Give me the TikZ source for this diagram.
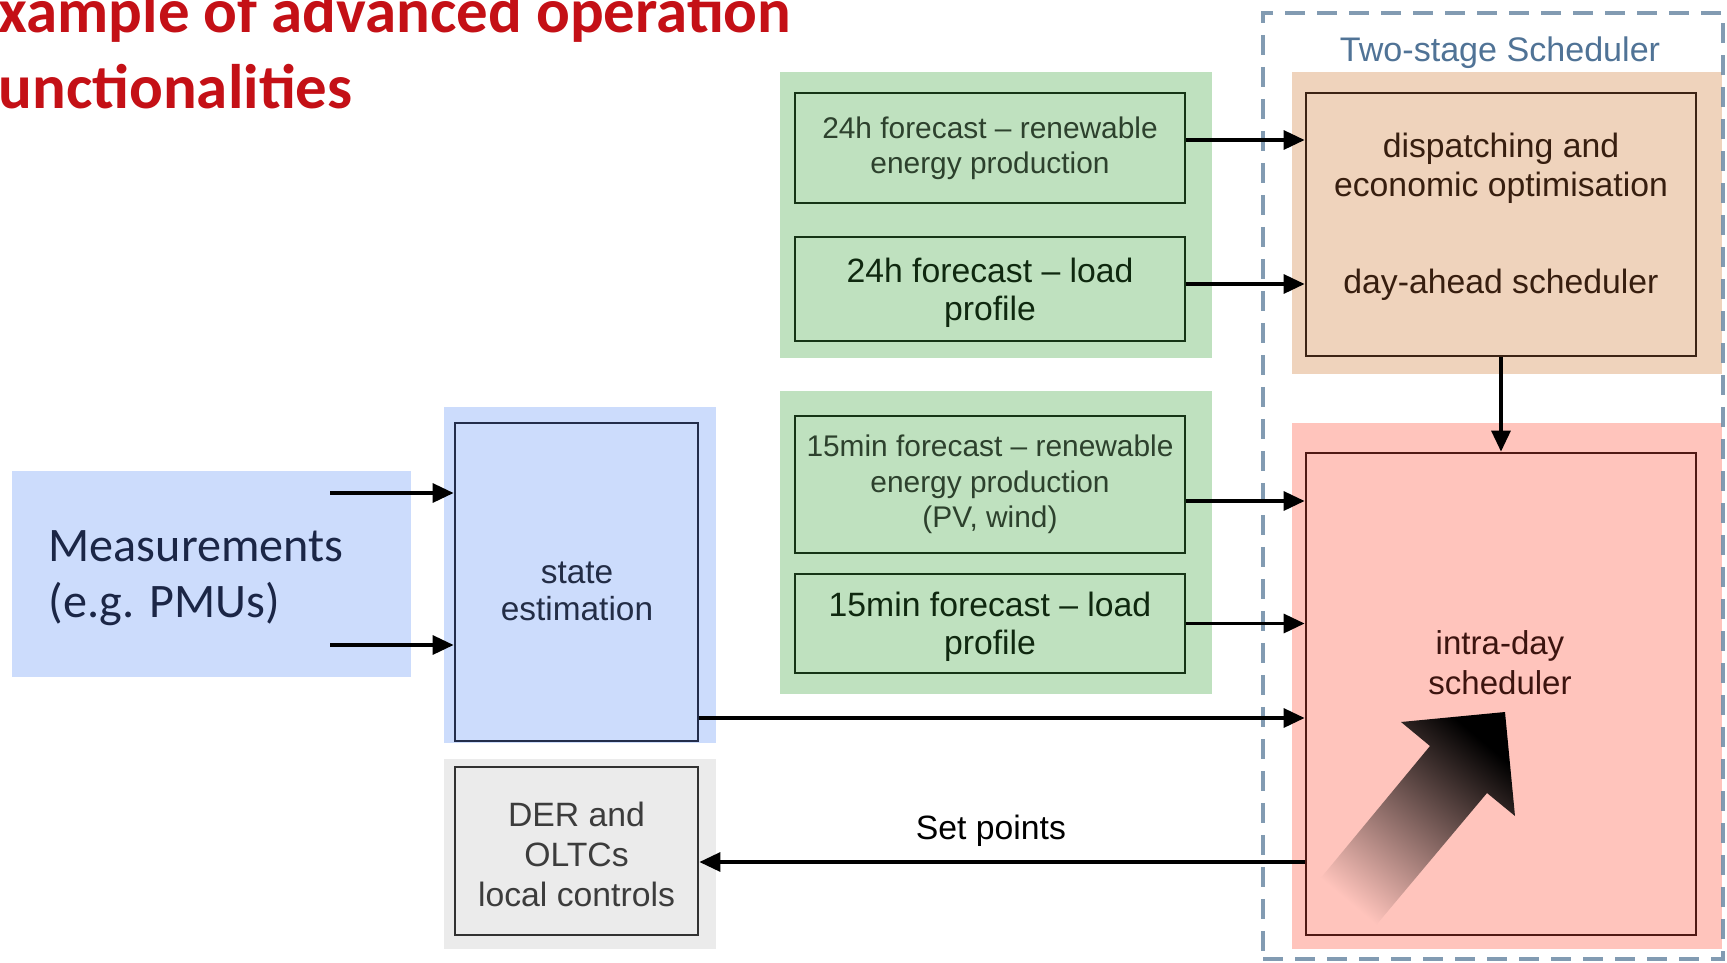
\documentclass[tikz,border=0pt]{standalone}
\usepackage{fontspec}
\setmainfont{Liberation Sans}
\newfontfamily\calibri{Carlito}
\usetikzlibrary{arrows.meta,calc}
\definecolor{greenbg}{RGB}{191,225,191}
\definecolor{greenline}{RGB}{22,52,22}
\definecolor{greentxtA}{RGB}{45,65,45}
\definecolor{greentxtB}{RGB}{15,40,15}
\definecolor{bluebg}{RGB}{204,220,252}
\definecolor{blueline}{RGB}{35,45,75}
\definecolor{bluetxt}{RGB}{35,45,70}
\definecolor{meastxt}{RGB}{27,38,70}
\definecolor{orangebg}{RGB}{239,211,188}
\definecolor{orangeline}{RGB}{60,35,20}
\definecolor{orangetxt}{RGB}{55,30,15}
\definecolor{redbg}{RGB}{255,196,188}
\definecolor{redline}{RGB}{80,25,20}
\definecolor{redtxt}{RGB}{60,20,15}
\definecolor{greybg}{RGB}{235,235,235}
\definecolor{greyline}{RGB}{50,50,50}
\definecolor{greytxt}{RGB}{60,60,60}
\definecolor{titlered}{RGB}{196,16,22}
\definecolor{dashcol}{RGB}{108,138,164}
\definecolor{schedtxt}{RGB}{80,115,150}
\definecolor{arrowmid}{RGB}{165,120,118}
\tikzset{
  bg/.style={rectangle, inner sep=0pt, draw=none},
  box/.style={rectangle, draw, line width=0.8pt, inner sep=0pt, align=center},
  arr/.style={line width=0.95pt, draw=black, -{Triangle[length=2.1mm,width=1.9mm]}},
  lbl/.style={inner sep=0pt, align=center},
  smallf/.style={font=\fontsize{8.5}{9.9}\selectfont},
  normf/.style={font=\fontsize{9.6}{10.8}\selectfont},
}
\begin{document}
\begin{tikzpicture}[x=0.1mm,y=-0.1mm]
\useasboundingbox (0,0) rectangle (1727,963);
\clip (0,0) rectangle (1727,963);
% title
\node[anchor=base west, inner sep=0pt, text=titlered, font=\calibri\bfseries\fontsize{17.9}{21.9}\selectfont] (title1) at (-2,32) {xample of advanced operation};
\node[anchor=base west, inner sep=0pt, text=titlered, font=\calibri\bfseries\fontsize{17.9}{21.9}\selectfont] (title2) at (-2,108) {unctionalities};
% backgrounds
\node[bg, fill=bluebg, minimum width=39.9mm, minimum height=20.6mm] (measbg) at (211.5,574) {};
\node[bg, fill=bluebg, minimum width=27.2mm, minimum height=33.6mm] (statebg) at (580,575) {};
\node[bg, fill=greenbg, minimum width=43.2mm, minimum height=28.6mm] (g1) at (996,215) {};
\node[bg, fill=greenbg, minimum width=43.2mm, minimum height=30.3mm] (g2) at (996,542.5) {};
\node[bg, fill=orangebg, minimum width=43mm, minimum height=30.2mm] (obg) at (1507,223) {};
\node[bg, fill=redbg, minimum width=43mm, minimum height=52.6mm] (rbg) at (1507,686) {};
\node[bg, fill=greybg, minimum width=27.2mm, minimum height=19mm] (gbg) at (580,854) {};
% scheduler container
\node[rectangle, inner sep=0pt, draw=dashcol, draw opacity=0.85, line width=1.15pt, dash pattern=on 2mm off 1.2mm, minimum width=46mm, minimum height=94.6mm] (sched) at (1493,486) {};
\node[anchor=base, inner sep=0pt, text=schedtxt, font=\fontsize{9.7}{11}\selectfont] (schedtitle) at (1500,61) {Two-stage Scheduler};
% measurements
\node[anchor=west, inner sep=0pt, align=left, text=meastxt, font=\calibri\fontsize{13.7}{15.8}\selectfont] (meastxt) at (48,578) {Measurements\\(e.g. PMUs)};
% boxes
\node[box, draw=blueline, minimum width=24.3mm, minimum height=31.8mm] (statebox) at (576.5,582) {};
\node[lbl, text=bluetxt, font=\fontsize{9.5}{10.5}\selectfont] (statetext) at (577,591) {state\\estimation};
\node[box, draw=greenline, text=greentxtA, smallf, minimum width=39mm, minimum height=11mm] (boxA) at (990,148) {24h forecast – renewable\\energy production};
\node[box, draw=greenline, text=greentxtB, normf, text depth=0pt, minimum width=39mm, minimum height=10.4mm] (boxB) at (990,289) {24h forecast – load\\profile};
\node[box, draw=greenline, text=greentxtA, font=\fontsize{8.5}{10.1}\selectfont, minimum width=39mm, minimum height=13.7mm] (boxC) at (990,484.5) {15min forecast – renewable\\energy production\\(PV, wind)};
\node[box, draw=greenline, text=greentxtB, normf, text depth=0pt, minimum width=39mm, minimum height=9.9mm] (boxD) at (990,623.5) {15min forecast – load\\profile};
\node[box, draw=orangeline, minimum width=39mm, minimum height=26.3mm] (dayahead) at (1501,224.5) {};
\node[lbl, text=orangetxt, font=\fontsize{9.6}{11.1}\selectfont] (datext1) at (1501,168.5) {dispatching and\\economic optimisation};
\node[lbl, text=orangetxt, font=\fontsize{9.6}{11.1}\selectfont] (datext2) at (1501,284.5) {day-ahead scheduler};
\node[box, draw=redline, minimum width=39mm, minimum height=48.2mm] (intra) at (1501,694) {};
\node[lbl, text=redtxt, font=\fontsize{9.4}{11.4}\selectfont] (intratext) at (1500,662.5) {intra-day\\scheduler};
\node[box, draw=greyline, minimum width=24.3mm, minimum height=16.8mm] (der) at (576.5,851) {};
\node[lbl, text=greytxt, font=\fontsize{9.6}{11.4}\selectfont] (dertext) at (576.5,854.5) {DER and\\OLTCs\\local controls};
% gradient arrow
\shade[bottom color=redbg, middle color=arrowmid, top color=black, shading angle=-40]
  (1315,885) -- (1430,746) -- (1401,722) -- (1505,712) -- (1515,816) -- (1487,793) -- (1372,930) -- cycle;
% connectors
\coordinate (m1) at (330,493);
\coordinate (m2) at (330,645);
\draw[arr] (m1) -- (m1 -| statebox.west);
\draw[arr] (m2) -- (m2 -| statebox.west);
\coordinate (a1) at ([yshift=0.8mm]boxA.east);
\draw[arr] (a1) -- (a1 -| dayahead.west);
\coordinate (b1) at ([yshift=0.5mm]boxB.east);
\draw[arr] (b1) -- (b1 -| dayahead.west);
\coordinate (c1) at ([yshift=-1.65mm]boxC.east);
\draw[arr] (c1) -- (c1 -| intra.west);
\draw[arr] (boxD.east) -- (boxD.east -| intra.west);
\coordinate (s1) at ([yshift=-13.6mm]statebox.east);
\draw[arr] (s1) -- (s1 -| intra.west);
\draw[arr] (dayahead.south) -- (intra.north);
\coordinate (d1) at ([yshift=-1.1mm]der.east);
\draw[arr] (d1 -| intra.west) -- (d1);
\node[anchor=base, inner sep=0pt, font=\fontsize{9.6}{11}\selectfont] (setpoints) at (991,839) {Set points};
\end{tikzpicture}
\end{document}
